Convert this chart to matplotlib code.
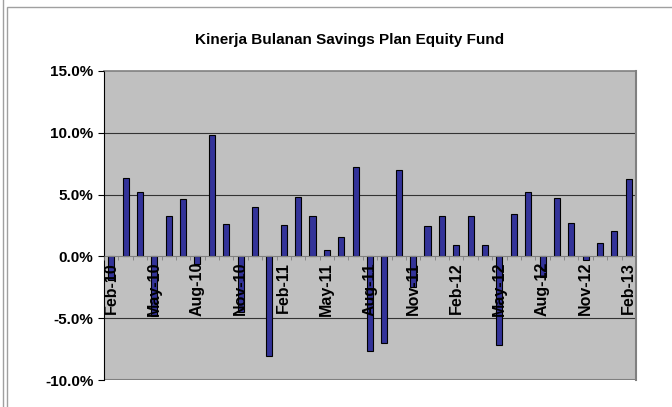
import numpy as np
import matplotlib
matplotlib.use("Agg")
import matplotlib.pyplot as plt
from matplotlib.patches import Rectangle
from matplotlib.ticker import FuncFormatter

plt.rcParams['font.family'] = ['Liberation Sans', 'DejaVu Sans']

# Monthly returns, Feb-10 .. Feb-13 (in %)
months = ['Feb-10', 'Mar-10', 'Apr-10', 'May-10', 'Jun-10', 'Jul-10', 'Aug-10', 'Sep-10',
          'Oct-10', 'Nov-10', 'Dec-10', 'Jan-11', 'Feb-11', 'Mar-11', 'Apr-11', 'May-11',
          'Jun-11', 'Jul-11', 'Aug-11', 'Sep-11', 'Oct-11', 'Nov-11', 'Dec-11', 'Jan-12',
          'Feb-12', 'Mar-12', 'Apr-12', 'May-12', 'Jun-12', 'Jul-12', 'Aug-12', 'Sep-12',
          'Oct-12', 'Nov-12', 'Dec-12', 'Jan-13', 'Feb-13']
returns = [-1.9, 6.35, 5.25, -4.8, 3.25, 4.65, -0.6, 9.8,
           2.63, -4.5, 4.03, -8.05, 2.58, 4.84, 3.25, 0.5,
           1.6, 7.26, -7.65, -7.0, 7.02, -2.5, 2.47, 3.3,
           0.94, 3.25, 0.94, -7.2, 3.45, 5.2, -1.7, 4.7,
           2.7, -0.32, 1.08, 2.07, 6.26]
yticks = [-10, -5, 0, 5, 10, 15]

fig = plt.figure(figsize=(6.72, 4.07), dpi=100)
ax = fig.add_axes([104 / 672, 1 - 380 / 407, 532 / 672, 309 / 407])

x = np.arange(len(months))
# bars below the axis layer so the month labels are drawn over them
ax.bar(x, returns, width=0.42, color='#333399', edgecolor='black', linewidth=0.8, zorder=2)
ax.set_axisbelow(False)

ax.set_facecolor('#C0C0C0')
ax.set_xlim(-0.5, len(months) - 0.5)
ax.set_ylim(-10, 15)
ax.set_yticks(yticks)
ax.yaxis.set_major_formatter(FuncFormatter(lambda v, p: '%.1f%%' % v))
for yv in yticks[1:-1]:
    if yv != 0:
        ax.axhline(yv, color='#333333', linewidth=0.8, zorder=1)

ax.spines['bottom'].set_position(('data', 0))
ax.spines['bottom'].set_color('#808080')
ax.spines['top'].set_color('#808080')
ax.spines['top'].set_linewidth(1.2)
ax.spines['right'].set_color('#808080')
ax.spines['right'].set_linewidth(1.5)
ax.spines['left'].set_color('black')

ax.set_xticks(x[::3])
ax.set_xticklabels(months[::3], rotation=90, fontsize=11.5, fontweight='bold')
ax.set_xticks(np.arange(-0.5, len(months)), minor=True)
ax.tick_params(axis='x', which='major', length=0, pad=4)
ax.tick_params(axis='x', which='minor', length=3, color='#808080', direction='out')
ax.tick_params(axis='y', length=4, direction='out')
for lab in ax.get_yticklabels():
    lab.set_fontsize(11)
    lab.set_fontweight('bold')

# bottom border of plot area
ax.axhline(-10, color='#808080', linewidth=1.5, zorder=1)

fig.text(350 / 672, 1 - 40 / 407, 'Kinerja Bulanan Savings Plan Equity Fund',
         ha='center', va='center', fontsize=11, fontweight='bold')

# outer chart frame
fig.patches.append(Rectangle((7 / 672, -0.1), 1.2, 1 - 7 / 407 + 0.1, transform=fig.transFigure,
                             fill=False, edgecolor='#A0A0A0', linewidth=1))
fig.lines.append(plt.Line2D([3 / 672, 3 / 672], [0, 1], transform=fig.transFigure,
                            color='#A0A0A0', linewidth=1))

fig.savefig('out.png', dpi=100)
